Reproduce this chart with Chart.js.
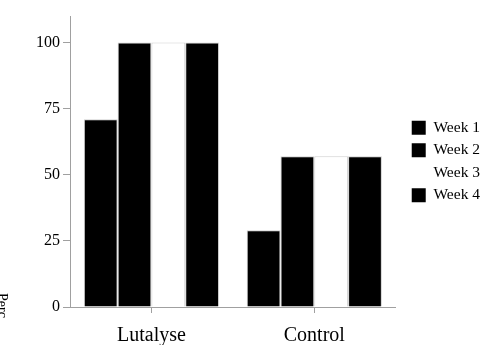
<!DOCTYPE html>
<html>
<head>
<meta charset="utf-8">
<script src="https://cdn.jsdelivr.net/npm/chart.js@4.4.1/dist/chart.umd.min.js"></script>
<style>
  html, body { margin: 0; padding: 0; background: #fff; }
  #wrap { width: 500px; height: 345px; }
</style>
</head>
<body>
<div id="wrap"><canvas id="barChart"></canvas></div>
<script>
// Chart values
const categories = ["Lutalyse", "Control"];
const seriesNames = ["Week 1", "Week 2", "Week 3", "Week 4"];
const week1 = [71, 29];
const week2 = [100, 57];
const week3 = [100, 57];
const week4 = [100, 57];
const yTicks = [0, 25, 50, 75, 100];
const yTitle = "Perc";

const serif = "'Liberation Serif', 'Times New Roman', serif";
const axisGray = "#a0a0a0";

// Clipped, rotated axis title at the lower left edge
const clippedTitle = {
    id: "clippedTitle",
    afterDraw(chart) {
        const ctx = chart.ctx;
        ctx.save();
        ctx.beginPath();
        ctx.rect(0, 0, 20, 321);
        ctx.clip();
        ctx.translate(2, 293);
        ctx.rotate(Math.PI / 2);
        ctx.font = "14px " + serif;
        ctx.fillStyle = "#000";
        ctx.textBaseline = "middle";
        ctx.fillText(yTitle, 0, 0);
        ctx.restore();
    },
};

// Keep the legend beside the plot area (centred on it) and nudge it right a bit
const legendPlacement = {
    id: "legendPlacement",
    afterLayout(chart) {
        const lg = chart.legend;
        const area = chart.chartArea;
        if (!lg) return;
        lg.top = area.top;
        lg.bottom = area.bottom;
        lg.height = area.bottom - area.top;
        lg.left += 9;
        lg.right += 9;
    },
};

const ctx = document.getElementById("barChart").getContext("2d");

const barChart = new Chart(ctx, {
    type: "bar",
    data: {
        labels: categories,
        datasets: [
            { label: seriesNames[0], data: week1, backgroundColor: "#000000" },
            { label: seriesNames[1], data: week2, backgroundColor: "#000000" },
            { label: seriesNames[2], data: week3, backgroundColor: "#ffffff" },
            { label: seriesNames[3], data: week4, backgroundColor: "#000000" },
        ],
    },
    options: {
        responsive: true,
        maintainAspectRatio: false,
        animation: false,
        layout: {
            padding: { top: 16, right: 19, left: 0, bottom: 0 },
        },
        datasets: {
            bar: {
                categoryPercentage: 0.83,
                barPercentage: 1.0,
                borderColor: "#cfcfcf",
                borderWidth: 1,
                borderSkipped: "start",
            },
        },
        scales: {
            x: {
                afterFit: (scale) => {
                    scale.height = 38;
                },
                grid: {
                    offset: false,
                    drawOnChartArea: false,
                    drawTicks: true,
                    tickLength: 6,
                    color: axisGray,
                },
                border: { color: axisGray, width: 1 },
                ticks: {
                    color: "#000",
                    font: { family: serif, size: 20 },
                    padding: 11,
                },
            },
            y: {
                min: 0,
                max: 110,
                afterBuildTicks: (scale) => {
                    scale.ticks = yTicks.map((v) => ({ value: v }));
                },
                afterFit: (scale) => {
                    scale.width = 70;
                },
                grid: {
                    drawOnChartArea: false,
                    drawTicks: true,
                    tickLength: 7,
                    color: axisGray,
                },
                border: { color: axisGray, width: 1 },
                ticks: {
                    color: "#000",
                    font: { family: serif, size: 16 },
                    padding: 3,
                },
            },
        },
        plugins: {
            legend: {
                display: true,
                position: "right",
                labels: {
                    color: "#000",
                    font: { family: serif, size: 15.5 },
                    boxWidth: 14,
                    boxHeight: 14,
                    padding: 7,
                    generateLabels: (chart) => {
                        const items = Chart.defaults.plugins.legend.labels.generateLabels(chart);
                        items.forEach((item) => {
                            item.lineWidth = 0;
                            item.strokeStyle = "rgba(0,0,0,0)";
                        });
                        return items;
                    },
                },
            },
            tooltip: { enabled: false },
        },
    },
    plugins: [clippedTitle, legendPlacement],
});
</script>
</body>
</html>
